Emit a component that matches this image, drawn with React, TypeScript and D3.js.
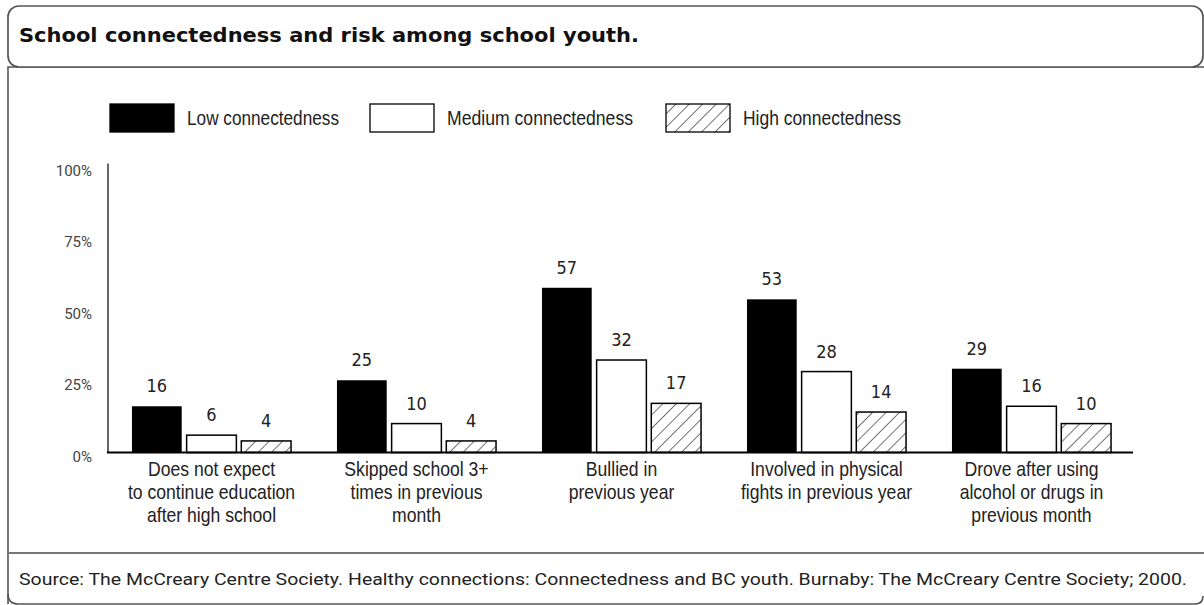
import React from "react";
import * as d3 from "d3";

const categoryLines: string[][] = [
  ["Does not expect", "to continue education", "after high school"],
  ["Skipped school 3+", "times in previous", "month"],
  ["Bullied in", "previous year"],
  ["Involved in physical", "fights in previous year"],
  ["Drove after using", "alcohol or drugs in", "previous month"],
];
const categoryKeys = ["c1", "c2", "c3", "c4", "c5"];
const seriesNames = ["Low connectedness", "Medium connectedness", "High connectedness"];
const lowValues = [16, 25, 57, 53, 29];
const mediumValues = [6, 10, 32, 28, 16];
const highValues = [4, 4, 17, 14, 10];
const yTicks = [0, 25, 50, 75, 100];
const yTickLabels = ["0%", "25%", "50%", "75%", "100%"];
const titleText = "School connectedness and risk among school youth.";
const sourceText =
  "Source: The McCreary Centre Society. Healthy connections: Connectedness and BC youth. Burnaby: The McCreary Centre Society; 2000.";

const W = 1204;
const H = 605;
const LIB = "'Liberation Sans', Arial, sans-serif";
const NARROW = "'Liberation Sans Narrow', 'DejaVu Sans Condensed', 'Arial Narrow', sans-serif";
const SANS = "Roboto, 'Liberation Sans', Arial, sans-serif";
const COND = 0.88;

const seriesFill = ["#000", "#fff", "url(#hatch)"];

export default function App() {
  const values = [lowValues, mediumValues, highValues];
  const y = d3.scaleLinear().domain([0, 100]).range([452.5, 163.5]);
  const x0 = d3.scaleBand<string>().domain(categoryKeys).range([109, 1134]).paddingInner(0.224).paddingOuter(0.112);
  const x1 = d3.scaleBand<string>().domain(seriesNames).range([0, x0.bandwidth()]).paddingInner(0.09);

  const legendX = [110, 370, 666];
  const legendTextLen = [152, 186, 158];

  return (
    <svg width={W} height={H} style={{ position: "absolute", left: 0, top: 0, background: "#fff" }}>
      <defs>
        <pattern id="hatch" patternUnits="userSpaceOnUse" width="9.5" height="9.5" patternTransform="rotate(45)">
          <rect width="9.5" height="9.5" fill="#fff" />
          <line x1="0" y1="0" x2="0" y2="9.5" stroke="#000" strokeWidth="1.1" />
        </pattern>
      </defs>

      {/* frame */}
      <path d="M8,604 L8,67 L1205,67" fill="none" stroke="#555" strokeWidth={1.6} />
      <path d="M8,594 Q8,604 18,604 L1195,604 Q1203,604 1203,596" fill="none" stroke="#555" strokeWidth={1.6} />
      <rect x={8} y={6} width={1195} height={61} rx={11} ry={11} fill="#fff" stroke="#555" strokeWidth={1.7} />
      <line x1={8} x2={1204} y1={553} y2={553} stroke="#777" strokeWidth={2} />

      <text
        x={19}
        y={42}
        fontFamily="'DejaVu Sans', sans-serif"
        fontWeight="bold"
        fontSize={19}
        fill="#111"
        textLength={620}
        lengthAdjust="spacingAndGlyphs"
      >
        {titleText}
      </text>

      {/* legend */}
      {seriesNames.map((s, i) => (
        <g key={s}>
          <rect x={legendX[i]} y={104} width={64} height={28} fill={seriesFill[i]} stroke="#000" strokeWidth={1.3} />
          <text
            x={legendX[i] + 77}
            y={125}
            fontFamily={LIB}
            fontSize={20}
            fill="#222"
            textLength={legendTextLen[i]}
            lengthAdjust="spacingAndGlyphs"
          >
            {s}
          </text>
        </g>
      ))}

      {/* y axis */}
      <line x1={108} x2={108} y1={y(100)} y2={y(0)} stroke="#333" strokeWidth={1.5} />
      {yTicks.map((t, i) => (
        <text key={t} x={92} y={y(t) + 5.5 + t * 0.03} textAnchor="end" dominantBaseline="middle" fontFamily={SANS} fontSize={15} fill="#444">
          {yTickLabels[i]}
        </text>
      ))}

      {/* bars */}
      {categoryKeys.map((c, ci) => (
        <g key={c} transform={`translate(${x0(c)},0)`}>
          {seriesNames.map((s, si) => {
            const v = values[si][ci];
            const bx = x1(s)!;
            return (
              <g key={s}>
                <rect
                  x={bx}
                  y={y(v)}
                  width={x1.bandwidth()}
                  height={y(0) - y(v)}
                  fill={seriesFill[si]}
                  stroke="#000"
                  strokeWidth={si === 0 ? 0 : 1.5}
                />
                <text
                  x={bx + x1.bandwidth() / 2}
                  y={y(v) - 14}
                  textAnchor="middle"
                  fontFamily={NARROW}
                  fontSize={18}
                  fill="#222"
                >
                  {v}
                </text>
              </g>
            );
          })}
          {categoryLines[ci].map((line, li) => (
            <text
              key={li}
              transform={`translate(${x0.bandwidth() / 2},${476 + li * 23}) scale(${COND},1)`}
              textAnchor="middle"
              fontFamily={LIB}
              fontSize={20}
              fill="#222"
            >
              {line}
            </text>
          ))}
        </g>
      ))}

      {/* x axis baseline */}
      <line x1={107} x2={1133} y1={y(0)} y2={y(0)} stroke="#000" strokeWidth={2} />

      <text x={19} y={585} fontFamily={SANS} fontSize={16.5} fill="#222" textLength={1168} lengthAdjust="spacingAndGlyphs">
        {sourceText}
      </text>
    </svg>
  );
}
